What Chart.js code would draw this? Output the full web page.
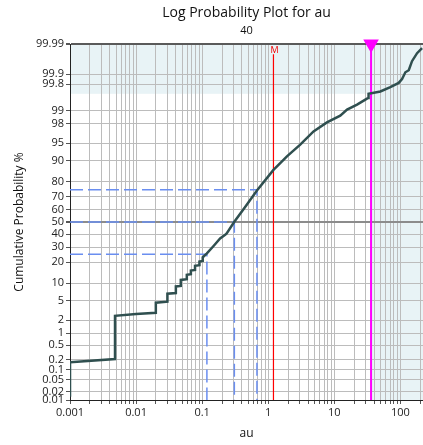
<!DOCTYPE html>
<html><head><meta charset="utf-8">
<script src="https://cdn.jsdelivr.net/npm/chart.js@4/dist/chart.umd.min.js"></script>
<style>html,body{margin:0;padding:0;background:#fff;}canvas{display:block;}</style>
</head><body>
<canvas id="c" width="423" height="445"></canvas>
<script>
// ---- data ----
const auValues = [0.001,0.001,0.0048,0.0048,0.01,0.0199,0.0199,0.0298,0.0298,0.040,0.040,0.0475,0.0475,0.0586,0.0586,0.0675,0.0675,0.078,0.078,0.091,0.091,0.102,0.102,0.117,0.15,0.187,0.223,0.235,0.305,0.45,0.675,1.2,1.52,1.92,3.05,4.85,7.74,12.3,15.6,22.1,29.5,32.5,33,49.8,70.5,94.2,106,119,134,150,179,213];
const cumProbPct = [0.013,0.17,0.21,2.5,2.74,2.9,4.6,4.8,6.7,6.9,8.9,9.1,11.3,11.6,13.5,13.8,15.5,15.8,18.0,18.3,20.4,20.8,23.0,25.5,31,36.5,39.4,40.5,50,62.5,74.5,86.2,89.1,91.5,94.7,97.08,98.13,98.69,99.06,99.29,99.47,99.52,99.63,99.68,99.76,99.817,99.86,99.912,99.924,99.961,99.979,99.986];
const yTickValues = [0.01,0.02,0.05,0.1,0.2,0.5,1,2,5,10,20,30,40,50,60,70,80,90,95,98,99,99.8,99.9,99.99];
const xLabelValues = [0.001,0.01,0.1,1,10,100];
const quartileProbs = [25,50,75];
const quartileAu = [0.118,0.307,0.675];
const meanAu = 1.2;
const meanTopProb = 99.977;
const cutAu = 36;
const cutProb = 99.63;
const xMin = 0.001, xMax = 220, yMin = 0.01, yMax = 99.99;

// ---- normal quantile helpers ----
function probit(p){
  const a=[-3.969683028665376e+01,2.209460984245205e+02,-2.759285104469687e+02,1.383577518672690e+02,-3.066479806614716e+01,2.506628277459239e+00];
  const b=[-5.447609879822406e+01,1.615858368580409e+02,-1.556989798598866e+02,6.680131188771972e+01,-1.328068155288572e+01];
  const c=[-7.784894002430293e-03,-3.223964580411365e-01,-2.400758277161838e+00,-2.549671010173000e+00,4.374664141464968e+00,2.938163982698783e+00];
  const d=[7.784695709041462e-03,3.224671290700398e-01,2.445134137142996e+00,3.754408661907416e+00];
  const pl=0.02425, ph=1-pl; let q,r;
  if(p<pl){q=Math.sqrt(-2*Math.log(p));return (((((c[0]*q+c[1])*q+c[2])*q+c[3])*q+c[4])*q+c[5])/((((d[0]*q+d[1])*q+d[2])*q+d[3])*q+1);}
  if(p<=ph){q=p-0.5;r=q*q;return (((((a[0]*r+a[1])*r+a[2])*r+a[3])*r+a[4])*r+a[5])*q/(((((b[0]*r+b[1])*r+b[2])*r+b[3])*r+b[4])*r+1);}
  q=Math.sqrt(-2*Math.log(1-p));return -(((((c[0]*q+c[1])*q+c[2])*q+c[3])*q+c[4])*q+c[5])/((((d[0]*q+d[1])*q+d[2])*q+d[3])*q+1);
}
function normCdf(z){
  const t=1/(1+0.2316419*Math.abs(z));
  const y=t*(0.319381530+t*(-0.356563782+t*(1.781477937+t*(-1.821255978+t*1.330274429))));
  const v=1-Math.exp(-z*z/2)/Math.sqrt(2*Math.PI)*y;
  return z>=0?v:1-v;
}

// ---- probability (normal quantile) scale ----
class ProbabilityScale extends Chart.Scale {
  determineDataLimits(){ this.min = this.options.min; this.max = this.options.max; }
  buildTicks(){ return []; }
  getLabelForValue(v){ return String(v); }
  configure(){ super.configure(); this._zMin = probit(this.min/100); this._zMax = probit(this.max/100); }
  getPixelForValue(v){ const z = probit(v/100); return this.getPixelForDecimal((z-this._zMin)/(this._zMax-this._zMin)); }
  getValueForPixel(px){ const dd = this.getDecimalForPixel(px); return normCdf(this._zMin + dd*(this._zMax-this._zMin))*100; }
}
ProbabilityScale.id = 'probability';
ProbabilityScale.defaults = {};
Chart.register(ProbabilityScale);

const curvePoints = auValues.map((v,i)=>({x:v, y:cumProbPct[i]}));
const quartileSets = quartileProbs.map((q,i)=>({
  data:[{x:xMin,y:q},{x:quartileAu[i],y:q},{x:quartileAu[i],y:yMin}],
  borderColor:'#6a8ef0', borderWidth:1.5, borderDash:[13,5], pointRadius:0, fill:false
}));

const overlayPlugin = {
  id:'overlay',
  beforeDraw(chart){
    const {ctx, chartArea:a, scales:{x,y}} = chart;
    ctx.save();
    ctx.fillStyle = '#e8f3f6';
    const yc = y.getPixelForValue(cutProb);
    ctx.fillRect(a.left, a.top, a.right-a.left, yc-a.top);
    const xc = x.getPixelForValue(cutAu);
    ctx.fillRect(xc, a.top, a.right-xc, a.bottom-a.top);
    ctx.restore();
  },
  afterDatasetsDraw(chart){
    const {ctx, chartArea:a, scales:{x}} = chart;
    ctx.save();
    ctx.fillStyle = '#f00000';
    ctx.font = '9px "Open Sans"';
    ctx.textAlign = 'center';
    ctx.textBaseline = 'middle';
    ctx.fillText('M', x.getPixelForValue(meanAu)+1, a.top+6);
    ctx.restore();
  }
};

new Chart(document.getElementById('c'), {
  type:'line',
  data:{ datasets:[
    { data:curvePoints, borderColor:'#2f4f4f', borderWidth:2.5, pointRadius:0, tension:0, fill:false },
    { data:[{x:cutAu,y:yMax},{x:cutAu,y:yMin}], borderColor:'#ff00ff', borderWidth:2, pointRadius:[7,0],
      pointStyle:'triangle', rotation:180, pointBackgroundColor:'#ff00ff', pointBorderColor:'#ff00ff', clip:false },
    { data:[{x:meanAu,y:meanTopProb},{x:meanAu,y:yMin}], borderColor:'#ff0000', borderWidth:1.2, pointRadius:0 },
    ...quartileSets
  ]},
  options:{
    responsive:false, animation:false, devicePixelRatio:1,
    layout:{ autoPadding:false, padding:{left:0,right:0,top:0,bottom:0} },
    plugins:{
      legend:{display:false}, tooltip:{enabled:false},
      title:{ display:true, text:'Log Probability Plot for au', fullSize:false, color:'#111',
        font:{family:'"Open Sans"', size:14, weight:'normal'}, padding:{top:5,bottom:0} },
      subtitle:{ display:true, text:'40', fullSize:false, color:'#111',
        font:{family:'"Open Sans"', size:11}, padding:{top:2.6,bottom:6.4} }
    },
    scales:{
      x:{ type:'logarithmic', min:xMin, max:xMax,
        afterBuildTicks:s=>{ const t=[]; for(let k=-3;k<=2;k++) for(let m=1;m<=9;m++){ const v=parseFloat(m+'e'+k); if(v>=xMin&&v<=xMax) t.push({value:v}); } s.ticks=t; },
        afterFit:s=>{ s.height = 45; },
        ticks:{ autoSkip:false, maxRotation:0, padding:2, color:'#222', font:{family:'"Open Sans"', size:11},
          callback:v=> xLabelValues.includes(v) ? String(v) : '' },
        grid:{ color:'#bcbcbc', lineWidth:1, tickLength:4, tickColor:'#555' },
        border:{ color:'#222', width:1 },
        title:{ display:true, text:'au', color:'#111', font:{family:'"Open Sans"', size:12}, padding:{top:0,bottom:4} }
      },
      y:{ type:'probability', min:yMin, max:yMax,
        afterBuildTicks:s=>{ s.ticks = yTickValues.map(v=>({value:v})); },
        afterFit:s=>{ s.width = 70; },
        ticks:{ autoSkip:false, padding:2, color:'#222', font:{family:'"Open Sans"', size:11}, callback:v=>String(v) },
        grid:{ tickLength:4, tickColor:'#555',
          color:c=> c.tick && c.tick.value===99.99 ? '#5a5a5a' : (c.tick && c.tick.value===50 ? '#8c8c8c' : '#bcbcbc'),
          lineWidth:c=> c.tick && (c.tick.value===99.99 || c.tick.value===50) ? 2 : 1 },
        border:{ color:'#222', width:1 },
        title:{ display:true, text:'Cumulative Probability %', color:'#111', font:{family:'"Open Sans"', size:12}, padding:{top:12,bottom:0} }
      }
    }
  },
  plugins:[overlayPlugin]
});
</script>
</body></html>
